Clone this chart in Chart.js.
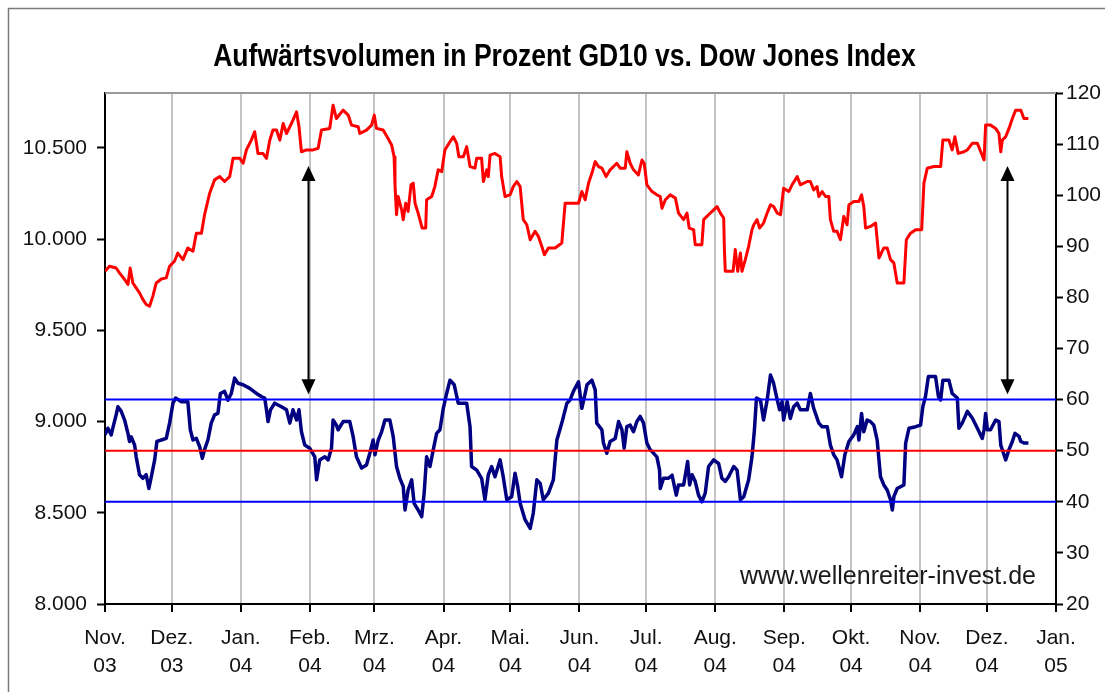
<!DOCTYPE html>
<html lang="de">
<head>
<meta charset="UTF-8">
<title>Aufwärtsvolumen in Prozent GD10 vs. Dow Jones Index</title>
<script src="https://cdn.jsdelivr.net/npm/chart.js"></script>
<style>
  html, body { margin: 0; padding: 0; background: #fff; }
  canvas { display: block; }
</style>
</head>
<body>
<canvas id="chart" width="1105" height="692"></canvas>
<script>
// x values are days since 1 Nov 2003
const monthStarts = [0, 30, 61, 92, 121, 152, 182, 213, 243, 274, 305, 335, 366, 396, 427];
const monthLabels = ['Nov.', 'Dez.', 'Jan.', 'Feb.', 'Mrz.', 'Apr.', 'Mai.', 'Jun.', 'Jul.', 'Aug.', 'Sep.', 'Okt.', 'Nov.', 'Dez.', 'Jan.'];
const yearLabels = ['03', '03', '04', '04', '04', '04', '04', '04', '04', '04', '04', '04', '04', '04', '05'];
const leftTicks = [8000, 8500, 9000, 9500, 10000, 10500];
const rightTicks = [20, 30, 40, 50, 60, 70, 80, 90, 100, 110, 120];

// Dow Jones Index [day, close] (left axis)
const dowJones = [[0,9823],[2,9851],[5,9841],[6.5,9814],[8.8,9778],[10.3,9751],[11.3,9841],[12.5,9759],[14,9732],[15.5,9705],[17,9669],[18.5,9641],[20,9632],[21.5,9687],[23,9759],[25.3,9781],[27.5,9787],[29,9851],[31.2,9878],[32.7,9923],[35,9887],[37.2,9951],[39.5,9933],[41,10032],[43.3,10032],[44.7,10133],[47,10251],[49.2,10324],[51.5,10342],[53.7,10315],[56,10342],[57.5,10442],[60.5,10442],[62,10415],[63.5,10488],[65.7,10542],[67.2,10588],[68.7,10469],[70.9,10469],[72.5,10442],[74,10542],[75.4,10597],[77,10597],[78.5,10542],[80,10633],[81.5,10578],[83,10615],[84.4,10651],[86,10697],[87.1,10615],[88.2,10478],[90.5,10488],[93.4,10488],[95.7,10497],[97.2,10597],[100.9,10606],[102.4,10733],[103.9,10660],[106.9,10706],[109.2,10679],[110.7,10624],[113.7,10615],[114.4,10578],[117.4,10597],[119.7,10624],[120.9,10679],[121.9,10606],[124.9,10597],[127.1,10551],[128.7,10515],[129.8,10451],[130.2,10297],[130.9,10133],[131.6,10233],[133.2,10160],[133.9,10106],[135,10196],[136.1,10151],[137.4,10297],[138.4,10306],[139.2,10196],[140.6,10142],[142.4,10060],[144,10060],[144.4,10215],[146.7,10233],[148.1,10287],[149.6,10379],[151.2,10369],[152.6,10488],[154.9,10533],[156.4,10560],[157.9,10524],[158.9,10451],[160.9,10451],[162.4,10506],[163.9,10397],[166.1,10388],[166.9,10442],[169.1,10442],[169.9,10315],[171.4,10379],[172.1,10342],[172.9,10460],[175.1,10469],[177.4,10451],[178.1,10342],[179.6,10233],[181.9,10242],[183.3,10287],[184.9,10315],[186.4,10287],[187.8,10106],[189.4,10078],[190.9,9996],[193.1,10042],[194.6,10014],[196.1,9960],[197.3,9914],[199.1,9951],[202.1,9951],[205.1,9978],[206.6,10196],[212.6,10196],[214.1,10260],[215.6,10215],[217.1,10306],[218.6,10360],[220.1,10424],[221.6,10397],[223.1,10388],[225,10342],[226.8,10379],[229.8,10415],[231.3,10388],[233.6,10388],[234.3,10478],[235.8,10415],[237.3,10379],[239.5,10351],[241.1,10433],[242.1,10415],[243.3,10297],[245.6,10260],[247.8,10242],[249.3,10233],[250.1,10169],[251.6,10215],[253.8,10242],[256.1,10224],[257.5,10142],[259.8,10106],[261.3,10142],[262.3,10060],[264.3,10051],[265,9969],[268,9969],[268.8,10106],[271,10133],[273.3,10160],[274.8,10178],[276.3,10142],[277.8,10115],[278.1,9951],[278.5,9823],[282,9823],[283,9942],[284.1,9823],[285.3,9923],[286,9823],[287.5,9887],[289,9960],[290.5,10051],[291.3,10078],[292.8,10106],[293.9,10060],[295.7,10087],[297.3,10142],[298.8,10187],[300.2,10178],[301.8,10142],[303.3,10133],[304.7,10278],[307,10260],[308.5,10297],[310.8,10342],[312.2,10297],[315.3,10315],[316.7,10315],[318.2,10269],[319.7,10287],[320.5,10233],[322,10260],[323.5,10233],[325,10233],[325.7,10106],[327.2,10042],[328.7,10042],[330.2,9996],[331.7,10124],[333.2,10078],[334,10187],[336.2,10206],[338.5,10206],[339.7,10242],[340.7,10178],[341.5,10060],[343.7,10069],[346,10087],[347.5,9896],[349.7,9951],[351.2,9951],[352.7,9887],[354.2,9869],[355.7,9759],[358.7,9759],[359.8,9996],[361.7,10032],[364,10051],[366.7,10051],[367.7,10306],[369.2,10388],[372.2,10397],[375.2,10397],[376.2,10542],[378.9,10542],[380.4,10488],[381.6,10560],[383.1,10469],[385.7,10478],[387.2,10488],[389.4,10524],[391.7,10524],[393.2,10478],[394.7,10433],[395.4,10624],[397.6,10624],[399.9,10606],[401.4,10578],[402.2,10478],[402.9,10542],[404.4,10560],[405.9,10606],[407.4,10660],[408.9,10706],[411.2,10706],[412.6,10660],[414.6,10660]];

// Aufwärtsvolumen in Prozent GD10 [day, percent] (right axis)
const gd10 = [[0,53.1],[1.3,54.4],[2.8,53.1],[3.5,54.4],[5,57],[5.8,58.6],[7.3,57.7],[8.8,56],[10.3,53.4],[11,51.8],[11.8,52.7],[13.3,51.1],[14,48.8],[15.5,45.3],[17,44.6],[18.5,45.3],[19.7,42.6],[20.8,44.9],[22.3,48.2],[23.3,51.8],[25.3,52.1],[27.5,52.4],[29,55.4],[30.5,59.3],[31.7,60.3],[34.3,59.6],[37.2,59.6],[38.3,54.1],[39.5,52.1],[41,52.4],[42.5,50.8],[43.7,48.5],[44.7,50.2],[46.2,52.1],[47.7,55.4],[49.2,57],[50.7,57.3],[51.8,61.2],[53.7,61.6],[55.2,59.9],[56.7,61.2],[58.2,64.2],[59.7,63.2],[62,62.9],[65,62.2],[68,61.2],[70.2,60.6],[71.7,60.3],[72.5,58],[73.2,55.7],[74.3,58],[76.2,59.3],[79.2,58.6],[81.5,58],[83,55.4],[84.4,58],[86,56],[87.1,58],[88.2,53.7],[89.7,51.1],[91.9,50.5],[94.2,48.8],[95,44.3],[96.4,48.2],[98.7,48.8],[100.2,48.2],[101.7,50.5],[102.4,56],[103.9,55],[104.7,54.1],[106.9,55.7],[109.9,55.7],[111.4,52.8],[112.9,48.8],[115.2,46.6],[117.4,47.2],[118.9,49.5],[120.4,52.1],[121.2,49.2],[122.7,52.1],[124.2,53.7],[125.7,56],[127.9,56],[129.4,52.8],[130.9,46.9],[132.4,44.6],[133.9,43],[134.7,38.4],[136.1,42.3],[137.7,44.3],[138.8,39.7],[140.6,38.4],[142.2,37.1],[143.3,41.7],[144.4,48.8],[145.9,46.9],[147.4,50.2],[148.9,53.4],[150.4,54.1],[151.9,58.3],[153.4,61.2],[154.9,63.8],[156.8,62.9],[158.6,59.3],[162.4,59.3],[163.9,54.7],[164.6,46.9],[166.9,46.2],[169.1,44.6],[170.6,40.4],[172.1,45.3],[173.6,46.9],[175.1,44.9],[177.4,48.2],[178.8,44.9],[180.4,40.4],[182.6,41],[184.1,45.6],[185.3,43],[186.4,39.7],[188.6,36.5],[190.9,34.8],[192.3,37.8],[193.9,44.3],[195.4,43.6],[196.8,40.4],[199.1,41.7],[201.3,44.3],[202.9,52.1],[205.1,55.4],[207.4,59.3],[208.8,59.9],[210.3,61.6],[212.6,63.5],[214.1,58.3],[215.6,61.2],[216.4,62.9],[218.6,63.8],[220.1,61.9],[220.8,55.4],[223.1,54.1],[223.8,51.5],[225.3,49.5],[226.8,51.8],[229.1,52.4],[230.6,55.7],[232.1,54.1],[233.1,50.5],[234.3,54.7],[235.8,55],[237.3,53.7],[238.8,55.7],[240.3,56.7],[241.8,55.4],[243.3,51.5],[244.8,50.2],[247.8,48.8],[249,46.2],[249.3,42.6],[250.8,44.6],[253,44.6],[254.6,45.2],[256.5,41.3],[257.5,43.3],[259.8,43.3],[261.6,47.9],[262.5,43.3],[263.6,45.3],[265,44],[266.5,41.3],[268,40],[269.5,41.7],[271,46.9],[273.3,48.2],[275.5,47.5],[277,44.6],[278.5,44],[280,44.9],[282.3,46.9],[283.8,46.2],[285.3,40.4],[286.8,41],[289,44.3],[290.5,48.8],[291.6,54.1],[292.5,60.3],[294.3,59.9],[295.7,56],[297.3,59.9],[298.8,64.8],[300.2,63.2],[301.5,60.6],[302.9,58],[304,59.6],[304.7,56],[306.3,59.6],[307.7,56.3],[309.2,58.6],[310.8,59.3],[312.2,58],[315.3,58],[316.7,61.2],[318.2,58.3],[320.5,55.4],[322,54.7],[324.3,54.7],[325.7,51.1],[327.2,49.2],[328.7,48.2],[330.7,44.9],[332.2,49.2],[334,51.8],[336.2,53.1],[337.8,54.7],[338.5,52.1],[339.7,57.3],[340.7,53.7],[342.2,56],[343.7,55.7],[345.2,55],[346.7,52.1],[348.2,44.9],[349.7,43.3],[351.2,42.3],[352.7,40.4],[353.5,38.4],[354.2,41],[355.7,42.6],[358.7,43.3],[359.5,51.5],[361,54.4],[364,54.7],[366.2,55],[367.2,58.6],[368.4,60.6],[369.7,64.5],[372.9,64.5],[374.2,60.6],[375.2,59.9],[376.2,63.8],[378.9,63.8],[380.4,61.2],[382.7,60.3],[383.4,54.4],[384.9,55.4],[387.2,57.7],[389.4,56.4],[391.7,54.4],[393.9,52.4],[394.7,54.1],[395.4,57.3],[396.2,54.1],[397.6,54.1],[399.9,56],[401.4,55.7],[402.2,51.1],[403.2,49.8],[404.4,48.2],[405.9,50.2],[407.4,51.8],[408.6,53.4],[410.4,52.8],[411.2,51.8],[412.6,51.5],[414.6,51.5]];

// reference levels on the right axis
const upperLevel = 60;
const midLevel = 50;
const lowerLevel = 40;

// arrows: day, top and bottom on the left axis
const arrowDays = [91, 405];
const arrowTop = 10400;
const arrowBottom = 9150;

const titleText = 'Aufwärtsvolumen in Prozent GD10 vs. Dow Jones Index';
const sansFont = "'Liberation Sans', Arial, sans-serif";

function toPoints(rows) {
  return rows.map(r => ({ x: r[0], y: r[1] }));
}
function levelLine(v) {
  return [{ x: monthStarts[0], y: v }, { x: monthStarts[monthStarts.length - 1], y: v }];
}
function formatThousands(v) {
  return String(v).replace(/\B(?=(\d{3})+(?!\d))/g, '.');
}

const framePlugin = {
  id: 'frame',
  beforeDraw(chart) {
    const c = chart.ctx;
    c.save();
    c.fillStyle = '#fff';
    c.fillRect(0, 0, chart.width, chart.height);
    c.strokeStyle = '#7a7a7a';
    c.lineWidth = 1.5;
    c.beginPath();
    c.moveTo(8.5, chart.height);
    c.lineTo(8.5, 8.5);
    c.lineTo(chart.width, 8.5);
    c.stroke();
    // title, narrow bold like the original Excel chart
    c.font = 'bold 31px ' + sansFont;
    c.fillStyle = '#000';
    c.textAlign = 'center';
    c.textBaseline = 'middle';
    c.translate(chart.width / 2 + 12, 57);
    c.scale(0.855, 1);
    c.fillText(titleText, 0, 0);
    c.restore();
  },
  beforeDatasetsDraw(chart) {
    const a = chart.chartArea, c = chart.ctx;
    c.save();
    c.strokeStyle = '#9a9a9a';
    c.lineWidth = 2;
    c.beginPath();
    c.moveTo(a.left, a.top);
    c.lineTo(a.right, a.top);
    c.stroke();
    c.restore();
  },
  afterDatasetsDraw(chart) {
    const c = chart.ctx, a = chart.chartArea;
    const xs = chart.scales.x, ys = chart.scales.yL;
    c.save();
    c.strokeStyle = '#000';
    c.fillStyle = '#000';
    c.lineWidth = 2;
    arrowDays.forEach(d => {
      const x = Math.round(xs.getPixelForValue(d)) + 0.5;
      const y1 = ys.getPixelForValue(arrowTop);
      const y2 = ys.getPixelForValue(arrowBottom);
      c.beginPath();
      c.moveTo(x, y1 + 10);
      c.lineTo(x, y2 - 10);
      c.stroke();
      c.beginPath();
      c.moveTo(x, y1);
      c.lineTo(x - 7, y1 + 15);
      c.lineTo(x + 7, y1 + 15);
      c.closePath();
      c.fill();
      c.beginPath();
      c.moveTo(x, y2);
      c.lineTo(x - 7, y2 - 15);
      c.lineTo(x + 7, y2 - 15);
      c.closePath();
      c.fill();
    });
    c.font = '25px ' + sansFont;
    c.fillStyle = '#1a1a1a';
    c.textAlign = 'right';
    c.textBaseline = 'middle';
    c.fillText('www.wellenreiter-invest.de', a.right - 20, a.bottom - 27);
    c.restore();
  }
};

const tickFont = { family: sansFont, size: 21 };

new Chart(document.getElementById('chart'), {
  type: 'line',
  data: {
    datasets: [
      { data: levelLine(upperLevel), yAxisID: 'yR', borderColor: '#0000ff', borderWidth: 2 },
      { data: levelLine(midLevel), yAxisID: 'yR', borderColor: '#ff0000', borderWidth: 2 },
      { data: levelLine(lowerLevel), yAxisID: 'yR', borderColor: '#0000ff', borderWidth: 2 },
      { label: 'GD10', data: toPoints(gd10), yAxisID: 'yR', borderColor: '#000080', borderWidth: 3.5 },
      { label: 'Dow Jones', data: toPoints(dowJones), yAxisID: 'yL', borderColor: '#ff0000', borderWidth: 3 }
    ]
  },
  options: {
    responsive: false,
    devicePixelRatio: 1,
    animation: false,
    layout: { padding: { top: 93, left: 0, right: 0, bottom: 0 } },
    elements: {
      point: { radius: 0 },
      line: { tension: 0, borderJoinStyle: 'round', fill: false }
    },
    plugins: {
      legend: { display: false },
      tooltip: { enabled: false },
      title: { display: false }
    },
    scales: {
      x: {
        type: 'linear',
        min: monthStarts[0],
        max: monthStarts[monthStarts.length - 1],
        afterBuildTicks: s => { s.ticks = monthStarts.map(v => ({ value: v })); },
        afterFit: s => { s.height = 88; },
        ticks: {
          autoSkip: false,
          maxRotation: 0,
          padding: 13,
          color: '#111',
          font: { family: sansFont, size: 21, lineHeight: 1.3 },
          callback: (v, i) => [monthLabels[i], yearLabels[i]]
        },
        grid: {
          color: ctx => (ctx.index === 0 || ctx.index === monthStarts.length - 1) ? 'rgba(0,0,0,0)' : '#c4c4c4',
          lineWidth: 2,
          tickColor: '#000',
          tickLength: 8,
          tickWidth: 2
        },
        border: { color: '#000', width: 2 }
      },
      yL: {
        position: 'left',
        min: 8000,
        max: 10800,
        afterBuildTicks: s => { s.ticks = leftTicks.map(v => ({ value: v })); },
        afterFit: s => { s.width = 105; },
        ticks: {
          padding: 10,
          color: '#111',
          font: tickFont,
          callback: v => formatThousands(v)
        },
        grid: { drawOnChartArea: false, tickColor: '#000', tickLength: 8, tickWidth: 2 },
        border: { color: '#000', width: 2 }
      },
      yR: {
        position: 'right',
        min: 20,
        max: 120,
        afterBuildTicks: s => { s.ticks = rightTicks.map(v => ({ value: v })); },
        afterFit: s => { s.width = 49; },
        ticks: { padding: 3, color: '#111', font: tickFont },
        grid: { drawOnChartArea: false, tickColor: '#000', tickLength: 7, tickWidth: 2 },
        border: { color: '#000', width: 2 }
      }
    }
  },
  plugins: [framePlugin]
});
</script>
</body>
</html>
